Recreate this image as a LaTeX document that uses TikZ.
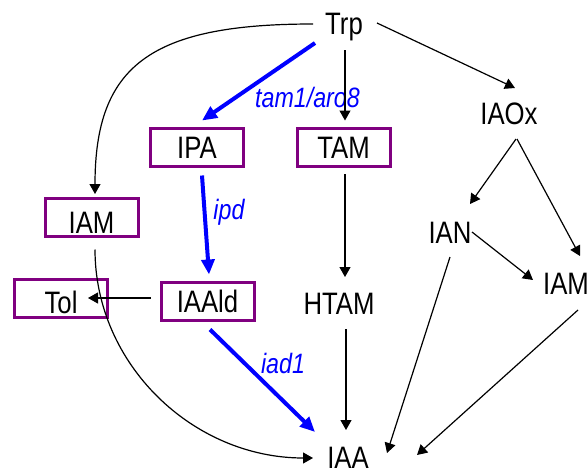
\documentclass[tikz,border=0pt]{standalone}
\usepackage{fontspec}
\setmainfont{Liberation Sans}[FakeStretch=0.83]
\usetikzlibrary{arrows.meta}
\definecolor{boxpurple}{RGB}{128,0,128}
\definecolor{pathblue}{RGB}{0,0,255}
\begin{document}
\begin{tikzpicture}[x=1pt,y=-1pt,
  metab/.style={font=\fontsize{31}{31}\selectfont, inner sep=0pt, anchor=base},
  enzbox/.style={draw=boxpurple, line width=3pt, minimum width=93pt, minimum height=38pt,
    inner sep=0pt, font=\fontsize{31}{31}\selectfont, text height=22pt, text depth=0pt},
  gene/.style={font=\fontsize{28}{28}\selectfont\itshape, text=pathblue, inner sep=0pt, anchor=base},
  conv/.style={line width=1.2pt, -{Triangle[length=10pt,width=11pt]}},
  major/.style={draw=pathblue, line width=4pt, -{Triangle[length=15pt,width=13pt]}}
]
\useasboundingbox (0,0) rectangle (587,469);

% metabolites
\node[metab] (trp)  at (344,34)  {Trp};
\node[metab] (iaox) at (509,124) {IAOx};
\node[metab] (ian)  at (450,243) {IAN};
\node[metab] (iamr) at (566,294) {IAM};
\node[metab] (htam) at (339,314) {HTAM};
\node[metab] (iaa)  at (348,468) {IAA};

% boxed intermediates
\node[enzbox] (ipa)   at (197,147)   {IPA};
\node[enzbox] (tam)   at (343.5,147) {TAM};
\node[enzbox] (iaml)  at (91.5,217.5) {\raisebox{-5pt}{IAM}};
\node[enzbox] (tol)   at (61,298)    {\raisebox{-4pt}{Tol}};
\node[enzbox] (iaald) at (207.5,301.5) {IAAld};

% gene labels
\node[gene] (tamaro) at (307.5,107) {tam1/aro8};
\node[gene] (ipd)    at (229,219)   {ipd};
\node[gene] (iad)    at (283,373)   {iad1};

% IPA branch
\draw[major] ([shift={(-29,9)}]trp.base) -- ([shift={(5,-6)}]ipa.north);
\draw[major] ([shift={(5,8)}]ipa.south) -- ([shift={(1.5,-6.5)}]iaald.north);
\draw[major] ([shift={(2.5,7.5)}]iaald.south) -- ([shift={(-33,-36)}]iaa.base);

% TAM branch
\draw[conv] ([shift={(1,16)}]trp.base) -- ([shift={(1.5,-6)}]tam.north);
\draw[conv] ([shift={(1.5,6.5)}]tam.south) -- ([shift={(6,-37)}]htam.base);
\draw[conv] ([shift={(7,15)}]htam.base) -- ([shift={(-2,-38)}]iaa.base);

% IAOx branch
\draw[conv] ([shift={(33,-11)}]trp.base) -- ([shift={(6,-36)}]iaox.base);
\draw[conv] ([shift={(7,15)}]iaox.base) -- ([shift={(20,-39)}]ian.base);
\draw[conv] ([shift={(8,15)}]iaox.base) -- ([shift={(14,-38)}]iamr.base);
\draw[conv] ([shift={(22,-11)}]ian.base) -- ([shift={(-33,-14)}]iamr.base);
\draw[conv] ([shift={(0,14)}]ian.base) -- ([shift={(39,-15)}]iaa.base);
\draw[conv] ([shift={(12,16)}]iamr.base) -- ([shift={(69,-13)}]iaa.base);

% IAM branch
\draw[conv] ([shift={(-31,-10)}]trp.base)
  .. controls +(-163,0) and +(0,-128) .. ([shift={(3.5,-3)}]iaml.north);
\draw[conv] ([shift={(3.5,11.5)}]iaml.south)
  .. controls +(0,115) and +(-120,0) .. ([shift={(-35,-10)}]iaa.base);

% side product
\draw[conv] ([shift={(-9,-3.5)}]iaald.west) -- ([shift={(27,0)}]tol.center);
\end{tikzpicture}
\end{document}
